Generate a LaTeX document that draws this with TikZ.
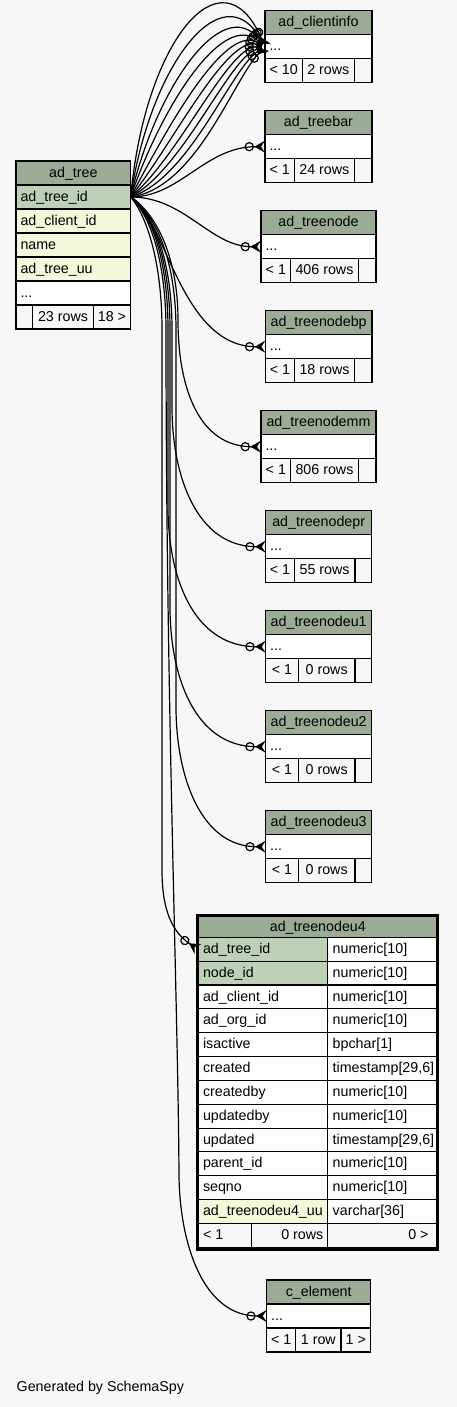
\documentclass[tikz,border=0pt]{standalone}
\usepackage{fontspec}
\setmainfont{Liberation Sans}
\usetikzlibrary{arrows.meta}
\definecolor{bg}{HTML}{F7F7F7}
\definecolor{hdr}{HTML}{9BAB96}
\definecolor{pkc}{HTML}{BED1B8}
\definecolor{idx}{HTML}{F4F7DA}
% name, x1, y1, x2, y2, fill, text anchor, text x, text
\newcommand{\cell}[9]{%
  \node[cellbox, fill=#6, minimum width={((#4)-(#2))*0.75pt}, minimum height={((#5)-(#3))*0.75pt}, anchor=north west] (#1) at ({#2},{#3}) {};
  \node[txt, anchor=#7] (#1-t) at ({#8},{(#3)+16}) {#9};
}
\newcommand{\blankcell}[6]{%
  \node[cellbox, fill=#6, minimum width={((#4)-(#2))*0.75pt}, minimum height={((#5)-(#3))*0.75pt}, anchor=north west] (#1) at ({#2},{#3}) {};
}
% prefix, x1, x2, y0, title, d1, d2, foot1, foot2
\newcommand{\smalltable}[9]{%
  \cell{#1-h}{#2}{#4}{#3}{(#4)+24}{hdr}{base}{((#2)+(#3))/2}{#5}
  \cell{#1-r}{#2}{(#4)+24}{#3}{(#4)+48}{white}{base west}{(#2)+4.5}{...}
  \cell{#1-f1}{#2}{(#4)+48}{#6}{(#4)+72}{bg}{base}{((#2)+(#6))/2}{#8}
  \cell{#1-f2}{#6}{(#4)+48}{#7}{(#4)+72}{bg}{base}{((#6)+(#7))/2}{#9}
  \blankcell{#1-f3}{#7}{(#4)+48}{#3}{(#4)+72}{bg}
}
\begin{document}
\begin{tikzpicture}[x=0.75pt,y=-0.75pt,
  font=\fontsize{10.7}{13}\selectfont,
  cellbox/.style={draw=black, line width=0.8pt, inner sep=0pt, outer sep=0pt},
  txt/.style={inner sep=0pt, outer sep=0pt, text=black},
  fk/.style={draw=black, line width=0.9pt,
    -{Circle[open,length=7pt,width=7pt,sep=0.3pt] Stealth[reversed,length=8pt,width=9pt,inset=3pt]}}]
\path[fill=bg] (0,0) rectangle (457,1407);
\useasboundingbox (0,0) rectangle (457,1407);

% ad_tree
\cell{at-h}{16}{161}{130.7}{185}{hdr}{base}{73.35}{ad\_tree}
\cell{at-r1}{16}{185}{130.7}{209}{pkc}{base west}{20.5}{ad\_tree\_id}
\cell{at-r2}{16}{209}{130.7}{233}{idx}{base west}{20.5}{ad\_client\_id}
\cell{at-r3}{16}{233}{130.7}{257}{idx}{base west}{20.5}{name}
\cell{at-r4}{16}{257}{130.7}{281}{idx}{base west}{20.5}{ad\_tree\_uu}
\cell{at-r5}{16}{281}{130.7}{305}{white}{base west}{20.5}{...}
\blankcell{at-f1}{16}{305}{32.7}{329}{bg}
\cell{at-f2}{32.7}{305}{93.3}{329}{bg}{base}{63}{23 rows}
\cell{at-f3}{93.3}{305}{130.7}{329}{bg}{base}{112}{18 >}

% small tables
\smalltable{ci}{265}{372}{10.7}{ad\_clientinfo}{302.3}{354.3}{< 10}{2 rows}
\smalltable{tb}{265}{372}{110.7}{ad\_treebar}{294.3}{354.3}{< 1}{24 rows}
\smalltable{tn}{261}{376}{210.7}{ad\_treenode}{290.7}{358.3}{< 1}{406 rows}
\smalltable{bp}{265.3}{372}{310.7}{ad\_treenodebp}{294.7}{354.3}{< 1}{18 rows}
\smalltable{mm}{261}{376}{410.7}{ad\_treenodemm}{290.7}{358.3}{< 1}{806 rows}
\smalltable{pr}{265.7}{371.7}{510.7}{ad\_treenodepr}{294.3}{355}{< 1}{55 rows}
\smalltable{ua}{265.7}{371.7}{610.7}{ad\_treenodeu1}{298.3}{355}{< 1}{0 rows}
\smalltable{ub}{265.7}{371.7}{710.7}{ad\_treenodeu2}{298.3}{355}{< 1}{0 rows}
\smalltable{uc}{265.7}{371.7}{810.7}{ad\_treenodeu3}{298.3}{355}{< 1}{0 rows}
\smalltable{ce}{266.7}{370.7}{1280}{c\_element}{295.7}{341}{< 1}{1 row}
\node[txt, anchor=base] (ce-f3-t) at (355.85,1344) {1 >};

% ad_treenodeu4
\cell{u4-h}{198}{915.7}{437.7}{937.3}{hdr}{base}{317.85}{ad\_treenodeu4}
\cell{u4-r0}{198}{937.3}{327.7}{961.15}{pkc}{base west}{203}{ad\_tree\_id}
\cell{u4-s0}{327.7}{937.3}{437.7}{961.15}{white}{base west}{332.7}{numeric[10]}
\cell{u4-r1}{198}{961.15}{327.7}{985}{pkc}{base west}{203}{node\_id}
\cell{u4-s1}{327.7}{961.15}{437.7}{985}{white}{base west}{332.7}{numeric[10]}
\cell{u4-r2}{198}{985}{327.7}{1008.85}{white}{base west}{203}{ad\_client\_id}
\cell{u4-s2}{327.7}{985}{437.7}{1008.85}{white}{base west}{332.7}{numeric[10]}
\cell{u4-r3}{198}{1008.85}{327.7}{1032.7}{white}{base west}{203}{ad\_org\_id}
\cell{u4-s3}{327.7}{1008.85}{437.7}{1032.7}{white}{base west}{332.7}{numeric[10]}
\cell{u4-r4}{198}{1032.7}{327.7}{1056.55}{white}{base west}{203}{isactive}
\cell{u4-s4}{327.7}{1032.7}{437.7}{1056.55}{white}{base west}{332.7}{bpchar[1]}
\cell{u4-r5}{198}{1056.55}{327.7}{1080.4}{white}{base west}{203}{created}
\cell{u4-s5}{327.7}{1056.55}{437.7}{1080.4}{white}{base west}{332.7}{timestamp[29,6]}
\cell{u4-r6}{198}{1080.4}{327.7}{1104.25}{white}{base west}{203}{createdby}
\cell{u4-s6}{327.7}{1080.4}{437.7}{1104.25}{white}{base west}{332.7}{numeric[10]}
\cell{u4-r7}{198}{1104.25}{327.7}{1128.1}{white}{base west}{203}{updatedby}
\cell{u4-s7}{327.7}{1104.25}{437.7}{1128.1}{white}{base west}{332.7}{numeric[10]}
\cell{u4-r8}{198}{1128.1}{327.7}{1151.95}{white}{base west}{203}{updated}
\cell{u4-s8}{327.7}{1128.1}{437.7}{1151.95}{white}{base west}{332.7}{timestamp[29,6]}
\cell{u4-r9}{198}{1151.95}{327.7}{1175.8}{white}{base west}{203}{parent\_id}
\cell{u4-s9}{327.7}{1151.95}{437.7}{1175.8}{white}{base west}{332.7}{numeric[10]}
\cell{u4-r10}{198}{1175.8}{327.7}{1199.65}{white}{base west}{203}{seqno}
\cell{u4-s10}{327.7}{1175.8}{437.7}{1199.65}{white}{base west}{332.7}{numeric[10]}
\cell{u4-r11}{198}{1199.65}{327.7}{1223.5}{idx}{base west}{203}{ad\_treenodeu4\_uu}
\cell{u4-s11}{327.7}{1199.65}{437.7}{1223.5}{white}{base west}{332.7}{varchar[36]}
\cell{u4-f1}{198}{1223.5}{251.7}{1247.35}{bg}{base west}{203}{< 1}
\cell{u4-f2}{251.7}{1223.5}{327.7}{1247.35}{bg}{base east}{323.3}{0 rows}
\cell{u4-f3}{327.7}{1223.5}{437.7}{1247.35}{bg}{base east}{428.5}{0 >}
\node[draw=black, line width=2.5pt, inner sep=0pt, outer sep=0pt, minimum width=180pt, minimum height=250pt, anchor=north west] (u4) at (197.7,915.7) {};

% footer text
\node[txt, anchor=base west] (gen) at (16.7,1391.7) {Generated by SchemaSpy};

% connectors to ad_clientinfo (10 foreign keys)
\foreach \a/\b/\c/\d in {145/40/222/-52, 150/65/222/-28, 155/90/222/-8, 160/110/222/10, 166/130/224/24, 172/145/226/36, 178/158/228/47, 184/168/229/58, 190/178/230/70, 196/188/232/82}
  \draw[fk] (at-r1.east) .. controls (\a,\b) and (\c,\d) .. (ci-r.west);

\draw[fk] (at-r1.east) .. controls (180,197) and (205,146.7) .. (tb-r.west);
\draw[fk] (at-r1.east) .. controls (185,197) and (210,246.7) .. (tn-r.west);
\draw[fk] (at-r1.east) .. controls (165,215) and (180,346.7) .. (bp-r.west);
\draw[fk] (at-r1.east) .. controls (158,215) and (178,260) .. (178,320) .. controls (178,390) and (200,446.7) .. (mm-r.west);
\draw[fk] (at-r1.east) .. controls (154,215) and (172,260) .. (172,330) -- (172,406.7) .. controls (172,476.7) and (197,546.7) .. (pr-r.west);
\draw[fk] (at-r1.east) .. controls (152,215) and (168,260) .. (168,330) -- (168,506.7) .. controls (168,576.7) and (193,646.7) .. (ua-r.west);
\draw[fk] (at-r1.east) .. controls (153,215) and (170,260) .. (170,330) -- (170,606.7) .. controls (170,676.7) and (195,746.7) .. (ub-r.west);
\draw[fk] (at-r1.east) .. controls (156,215) and (176,260) .. (176,330) -- (176,706.7) .. controls (176,776.7) and (201,846.7) .. (uc-r.west);
\draw[fk] (at-r1.east) .. controls (146,215) and (162,260) .. (162,330) -- (162,870) .. controls (162,910) and (172,932) .. (u4-r0.west);
\draw[fk] (at-r1.east) .. controls (150,215) and (166,260) .. (166,330) .. controls (166,700) and (178,1000) .. (179,1176) .. controls (180,1246) and (204,1316) .. (ce-r.west);
\end{tikzpicture}
\end{document}
